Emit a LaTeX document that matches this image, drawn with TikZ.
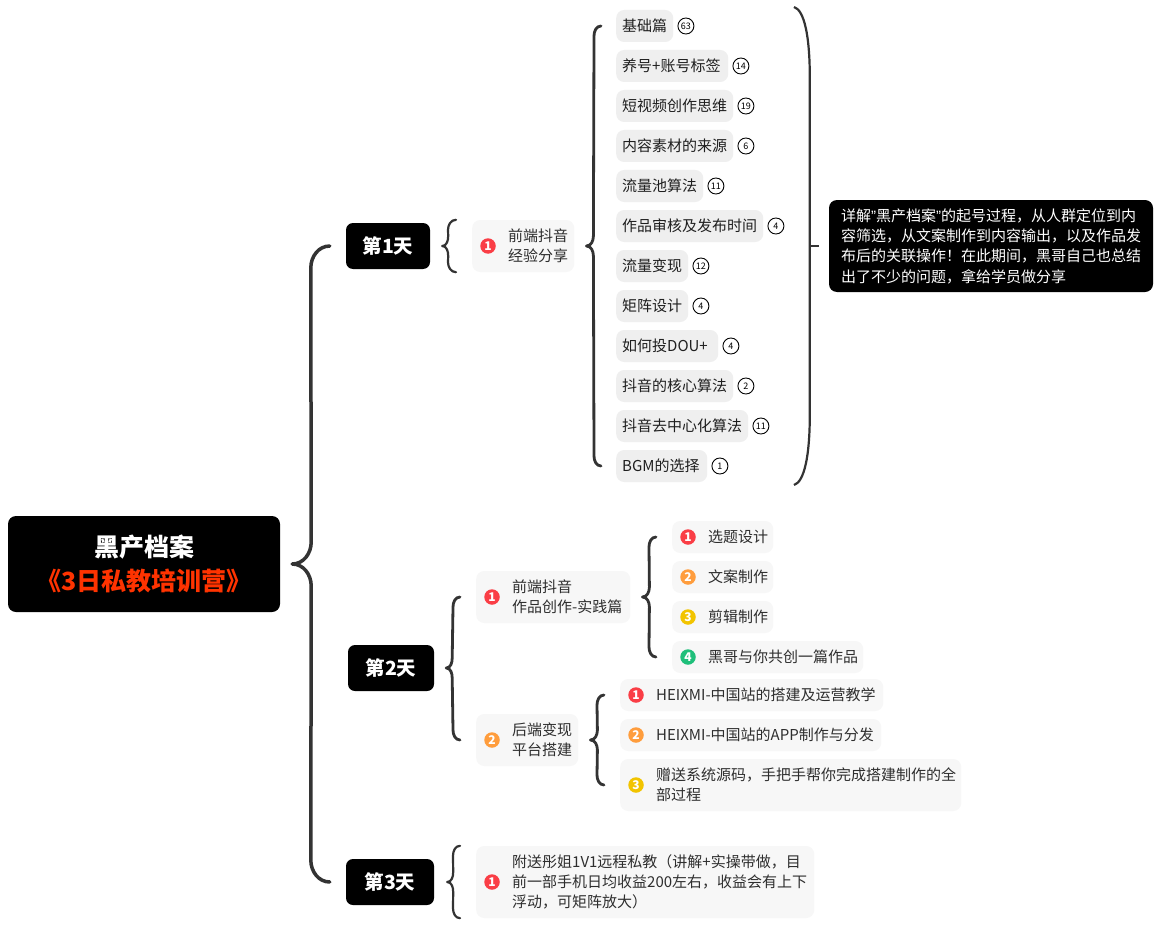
\documentclass[tikz,border=0pt]{standalone}
\usepackage{fontspec}
\setmainfont{Noto Sans CJK SC}
\newfontfamily\latinf{Liberation Sans}
\usetikzlibrary{calc}
\definecolor{linec}{HTML}{333333}
\definecolor{itemfill}{HTML}{EFEFEF}
\definecolor{softfill}{HTML}{F7F7F7}
\definecolor{txtc}{HTML}{2E2E2E}
\definecolor{rd}{HTML}{FA3E46}
\definecolor{og}{HTML}{FF9D3D}
\definecolor{yl}{HTML}{F2C400}
\definecolor{gn}{HTML}{1FBF7A}
\definecolor{redt}{HTML}{FF3300}
\tikzset{
  x=1pt,y=-1pt,
  txt/.style={font=\fontsize{15}{20}\selectfont,text=txtc,inner sep=0pt,align=left},
  rootbox/.style={fill=black,rounded corners=8pt,minimum width=272pt,minimum height=96pt,inner sep=0pt,align=center,text=white,font=\fontsize{25}{34}\selectfont\bfseries},
  daybox/.style={fill=black,rounded corners=7pt,minimum height=46pt,inner sep=0pt,text=white,font=\fontsize{19.5}{24}\selectfont\bfseries},
  itembox/.style={fill=itemfill,rounded corners=8pt,minimum height=32pt,inner ysep=0pt,inner xsep=6pt,align=left,text=black!88,font=\fontsize{15}{20}\selectfont},
  softbox/.style={fill=softfill,rounded corners=8pt,inner sep=0pt},
  notebox/.style={fill=black,rounded corners=8pt,minimum width=324pt,minimum height=92pt,inner sep=0pt,text=white,align=left,font=\fontsize{15}{20.3}\selectfont},
  badge/.style={circle,fill=#1,minimum size=15.5pt,inner sep=0pt,text=white,font=\fontsize{12}{12}\selectfont\bfseries},
  countc/.style={circle,draw=black,fill=white,line width=0.9pt,minimum size=16pt,inner sep=0pt,text=black,font=\fontsize{9}{9}\selectfont},
  braceA/.style={draw=linec,line width=3.5pt,line cap=round,line join=round},
  braceB/.style={draw=linec,line width=2.8pt,line cap=round,line join=round},
  braceC/.style={draw=linec,line width=2.2pt,line cap=round,line join=round},
}
% tip, top end, bottom end, style, tip-to-spine, spine-to-end, radius
\newcommand{\mmbrace}[7]{%
  \draw[#4] (#2) to[out=180,in=90] ([shift={(-#6,#7)}]#2)
    -- ([shift={(#5,-#7)}]#1) to[out=-90,in=0] (#1)
    to[out=0,in=90] ([shift={(#5,#7)}]#1)
    -- ([shift={(-#6,-#7)}]#3) to[out=-90,in=180] (#3);}
\newcommand{\itemrow}[5]{% name, y, width, text, count
  \node[itembox,text width=#3pt-12pt,anchor=west] (#1) at (616,#2) {#4};
  \node[countc] (#1c) at ([xshift=12.5pt]#1.east) {#5};}
\newcommand{\softrow}[8]{% name, left, y, width, height, colour, num, text
  \node[softbox,minimum width=#4pt,minimum height=#5pt,anchor=west] (#1) at (#2,#3) {};
  \node[badge=#6] (#1b) at ([xshift=16pt]#1.west) {#7};
  \node[txt,anchor=west] (#1t) at ([xshift=36pt]#1.west) {#8};}
\begin{document}
\begin{tikzpicture}
\useasboundingbox (0,0) rectangle (1161,928);
\fill[white] (0,0) rectangle (1161,928);

\node[rootbox] (root) at (144,564) {黑产档案\\{\color{redt}《3日私教培训营》}};
\node[daybox,minimum width=84pt] (d1) at (388,246) {第1天};
\node[daybox,minimum width=86pt] (d2) at (391,668) {第2天};
\node[daybox,minimum width=88pt] (d3) at (390,882) {第3天};

% day 1
\softrow{a}{472}{246}{102}{52}{rd}{1}{前端抖音\\经验分享}
\itemrow{i1}{26}{57}{基础篇}{63}
\itemrow{i2}{66}{112}{养号+账号标签}{14}
\itemrow{i3}{106}{117}{短视频创作思维}{19}
\itemrow{i4}{146}{117}{内容素材的来源}{6}
\itemrow{i5}{186}{87}{流量池算法}{11}
\itemrow{i6}{226}{147}{作品审核及发布时间}{4}
\itemrow{i7}{266}{72}{流量变现}{12}
\itemrow{i8}{306}{72}{矩阵设计}{4}
\itemrow{i9}{346}{102}{如何投DOU+}{4}
\itemrow{i10}{386}{117}{抖音的核心算法}{2}
\itemrow{i11}{426}{132}{抖音去中心化算法}{11}
\itemrow{i12}{466}{91}{BGM的选择}{1}
\node[notebox] (note) at (991,246) {详解{\latinf ”}黑产档案{\latinf ”}的起号过程，从人群定位到内\\容筛选，从文案制作到内容输出，以及作品发\\布后的关联操作！在此期间，黑哥自己也总结\\出了不少的问题，拿给学员做分享};

% day 2
\softrow{b}{476}{597}{154}{52}{rd}{1}{前端抖音\\作品创作-实践篇}
\softrow{c}{476}{740}{102}{52}{og}{2}{后端变现\\平台搭建}
\softrow{b1}{672}{537}{101}{32}{rd}{1}{选题设计}
\softrow{b2}{672}{577}{101}{32}{og}{2}{文案制作}
\softrow{b3}{672}{617}{101}{32}{yl}{3}{剪辑制作}
\softrow{b4}{672}{657}{191}{32}{gn}{4}{黑哥与你共创一篇作品}
\softrow{c1}{620}{695}{263}{32}{rd}{1}{HEIXMI-中国站的搭建及运营教学}
\softrow{c2}{620}{735}{261}{32}{og}{2}{HEIXMI-中国站的APP制作与分发}
\softrow{c3}{620}{785}{341}{52}{yl}{3}{赠送系统源码，手把手帮你完成搭建制作的全\\部过程}

% day 3
\softrow{e}{476}{882}{338}{72}{rd}{1}{附送彤姐1V1远程私教（讲解+实操带做，目\\前一部手机日均收益200左右，收益会有上下\\浮动，可矩阵放大）}

% connector ends
\coordinate (t0) at ([xshift=12pt]root.east);
\coordinate (u0) at ([xshift=-16pt]d1.west);
\coordinate (v0) at ([xshift=-16pt]d3.west);
\mmbrace{t0}{u0}{v0}{braceA}{19}{19}{22}

\coordinate (t1) at ([xshift=12pt]d1.east);
\coordinate (u1) at ([xshift=-16pt]a.north west);
\coordinate (v1) at ([xshift=-16pt]a.south west);
\mmbrace{t1}{u1}{v1}{braceC}{6}{8}{10}

\coordinate (t2) at ([xshift=12pt]a.east);
\coordinate (u2) at ([xshift=-15pt]i1.west);
\coordinate (v2) at ([xshift=-15pt]i12.west);
\mmbrace{t2}{u2}{v2}{braceB}{7}{7}{10}

\coordinate (t3) at ([xshift=12pt]d2.east);
\coordinate (u3) at ([xshift=-16pt]b.west);
\coordinate (v3) at ([xshift=-16pt]c.west);
\mmbrace{t3}{u3}{v3}{braceB}{6}{7}{10}

\coordinate (t4) at ([xshift=12pt]b.east);
\coordinate (u4) at ([xshift=-16pt]b1.west);
\coordinate (v4) at ([xshift=-16pt]b4.west);
\mmbrace{t4}{u4}{v4}{braceB}{7}{7}{10}

\coordinate (t5) at ([xshift=12pt]c.east);
\coordinate (u5) at ([xshift=-16pt]c1.west);
\coordinate (v5) at ([xshift=-16pt]c3.west);
\mmbrace{t5}{u5}{v5}{braceB}{7}{7}{10}

\coordinate (t6) at ([xshift=13pt]d3.east);
\coordinate (u6) at ([xshift=-16pt]e.north west);
\coordinate (v6) at ([xshift=-16pt]e.south west);
\mmbrace{t6}{u6}{v6}{braceC}{6}{7}{10}

% right bracket
\coordinate (rt) at (794,7);
\coordinate (rb) at (794,485);
\coordinate (rs) at ([xshift=-19pt]note.west);
\coordinate (rx) at ([xshift=-10pt]note.west);
\draw[braceC,line cap=butt] (rt) .. controls (804,10) and (810,35) .. (rs|-0,80)
   -- (rs|-0,412) .. controls (810,457) and (804,482) .. (rb);
\draw[braceC,line cap=butt] (rs) -- (rx);
\end{tikzpicture}
\end{document}
